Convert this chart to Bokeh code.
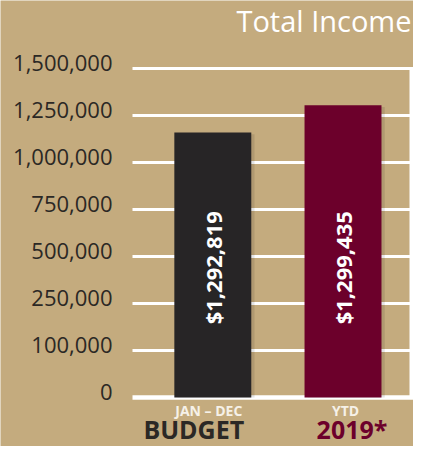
import numpy as np
from bokeh.plotting import figure
from bokeh.models import FixedTicker, Range1d, ColumnDataSource
from bokeh.core.properties import value
from bokeh.embed import file_html
from bokeh.resources import INLINE

# ---------------- data ----------------
title_text = "Total Income"
tick_values = [0, 100000, 250000, 500000, 750000, 1000000, 1250000, 1500000]
tick_labels = ["0", "100,000", "250,000", "500,000", "750,000",
               "1,000,000", "1,250,000", "1,500,000"]
categories = ["BUDGET", "2019*"]
category_subtitles = ["JAN \u2013 DEC", "YTD"]
bar_values = [1160000, 1305000]          # bar tops as drawn against the axis
bar_labels = ["$1,292,819", "$1,299,435"]
bar_colors = ["#272526", "#6c002b"]
category_colors = ["#2b2825", "#6c002b"]

# ---------------- style / layout ----------------
BG = "#c4ab7e"
WHITE = "#ffffff"
FONT = "Open Sans"

tick_pos = list(range(len(tick_values)))           # ticks are evenly spaced
bar_tops = np.interp(bar_values, tick_values, tick_pos)
xs = list(range(len(categories)))

W, H = 413, 446
X0, X1 = -1.6306, 1.5414
XA = -0.6168                 # where the value axis / grid begins
Y0, Y1 = -1.0426, 8.4468
LABEL_SHIFT = 0.12           # tick labels sit a little above their grid lines

p = figure(width=W, height=H, output_backend="svg", toolbar_location=None,
           x_range=Range1d(X0, X1), y_range=Range1d(Y0, Y1),
           x_axis_type=None,
           min_border_left=0, min_border_right=0, min_border_top=0, min_border_bottom=0,
           background_fill_color=BG, border_fill_color=BG, outline_line_color=None)

# y axis (placed inside the frame)
yax = p.yaxis[0]
label_ticks = [t + LABEL_SHIFT for t in tick_pos]
yax.ticker = FixedTicker(ticks=label_ticks)
yax.major_label_overrides = {t: lab for t, lab in zip(label_ticks, tick_labels)}
yax.fixed_location = XA
yax.axis_line_color = None
yax.major_tick_line_color = None
yax.minor_tick_line_color = None
yax.major_tick_out = 0
yax.major_tick_in = 0
yax.major_label_standoff = 20
yax.major_label_text_font = FONT
yax.major_label_text_font_size = "22px"
yax.major_label_text_color = "#2b2825"
p.ygrid.grid_line_color = None

# grid lines and baseline, starting at the axis
grid_y = tick_pos[1:]
p.segment(x0=[XA] * len(grid_y), y0=grid_y, x1=[X1] * len(grid_y), y1=grid_y,
          line_color=WHITE, line_width=3)
p.segment(x0=[XA], y0=[tick_pos[0]], x1=[X1], y1=[tick_pos[0]],
          line_color=WHITE, line_width=4.5)
# right white strip
p.segment(x0=[X1], y0=[tick_pos[0]], x1=[X1], y1=[tick_pos[-1]], line_color=WHITE, line_width=8)

src = ColumnDataSource(dict(x=xs, top=bar_tops, color=bar_colors, label=bar_labels,
                            cat=categories, sub=category_subtitles, ccol=category_colors,
                            sub_off=[-4, 2.5], cat_off=[-19, 9]))

# soft shadow
p.vbar(x=[x + 0.025 for x in xs], top=[t - 0.04 for t in bar_tops], bottom=0, width=0.591,
       fill_color="#000000", fill_alpha=0.10, line_color=None)
# bars
p.vbar(x="x", top="top", bottom=0, width=0.591, fill_color="color", line_color=None, source=src)

# bar value labels (rotated)
p.text(x="x", y=2.76, text="label", angle=np.pi / 2, source=src,
       text_align="center", text_baseline="middle", text_color=WHITE,
       text_font=value(FONT), text_font_style="bold", text_font_size="22px")

# category labels below the baseline
p.text(x="x", y=0, text="sub", source=src, x_offset="sub_off", y_offset=13,
       text_align="center", text_baseline="alphabetic", text_color="#f6f1e8",
       text_font=value(FONT), text_font_style="bold", text_font_size="14px")
p.text(x="x", y=0, text="cat", source=src, x_offset="cat_off", y_offset=32,
       text_align="center", text_baseline="alphabetic", text_color="ccol",
       text_font=value(FONT), text_font_style="bold", text_font_size="25px")

# title
p.text(x=[X1], y=[Y1], text=[title_text], x_offset=-2, y_offset=20,
       text_align="right", text_baseline="alphabetic", text_color=WHITE,
       text_font=value(FONT), text_font_size="29px")

open("out.html", "w").write(file_html(p, INLINE))
